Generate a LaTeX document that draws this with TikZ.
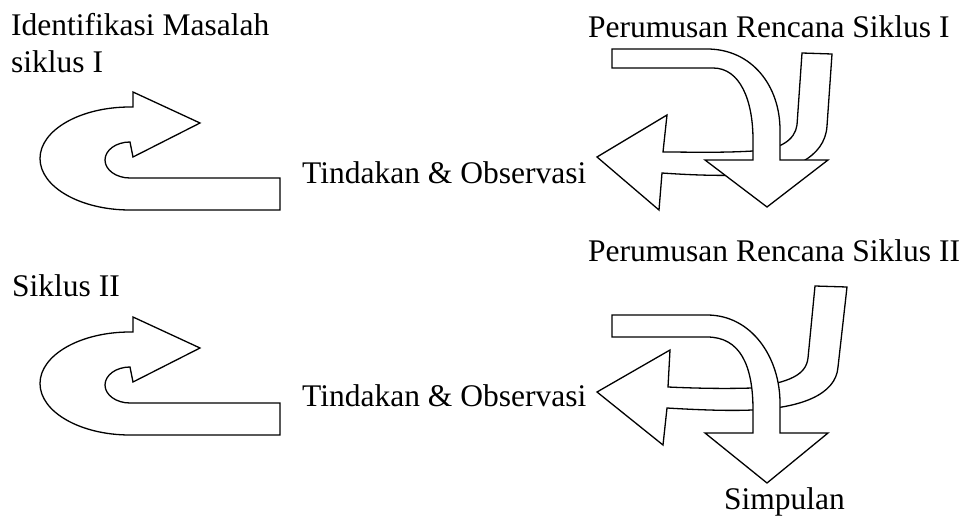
\documentclass[tikz,border=0pt]{standalone}
\usepackage{fontspec}
\setmainfont{Liberation Serif}
\begin{document}
\begin{tikzpicture}[x=1pt,y=-1pt,
  shapeline/.style={draw=black,fill=white,line width=1.3pt,line join=miter},
  lbl/.style={inner sep=0pt,anchor=base west,font=\fontsize{31.5}{37}\selectfont}]
\useasboundingbox (0,0) rectangle (966,522);

% ---------- U-turn arrows ----------
\foreach \dy/\nm in {0/ua, 225/ub}{
\begin{scope}[shift={(0,\dy)}]
\draw[shapeline] (280,178) -- (130,178)
  arc[start angle=90,end angle=270,x radius=25,y radius=18]
  -- (133,157) -- (200,123) -- (133,92) -- (133,107) -- (130,107)
  arc[start angle=270,end angle=90,x radius=90,y radius=51.5]
  -- (280,210) -- cycle;
\end{scope}
}

% ---------- right group 1 ----------
\draw[shapeline] (663,152) -- (667,115) -- (597,157) -- (659,210) -- (662,173)
  .. controls (690,175) and (720,176) .. (745,175)
  .. controls (790,173) and (825,158) .. (827,126)
  -- (832,54) -- (802,53) -- (797,125)
  .. controls (795,140) and (780,150) .. (753,151)
  .. controls (720,153) and (690,152) .. (663,152) -- cycle;
\draw[shapeline] (612,49) -- (707,49)
  .. controls (752,49) and (780,86) .. (780,130)
  -- (780,160) -- (828,160) -- (767,207) -- (705,160) -- (753,160) -- (753,140)
  .. controls (753,100) and (740,68) .. (713,68)
  -- (612,68) -- cycle;

% ---------- right group 2 ----------
\draw[shapeline] (668,387) -- (670,350) -- (597,392) -- (663,445) -- (667,408)
  .. controls (700,410) and (730,411) .. (752,410)
  .. controls (800,408) and (836,395) .. (838,367)
  -- (847,287) -- (815,286) -- (808,358)
  .. controls (806,375) and (790,382) .. (752,388)
  .. controls (720,389) and (690,388) .. (668,387) -- cycle;
\draw[shapeline] (612,315) -- (707,315)
  .. controls (752,315) and (780,358) .. (780,403)
  -- (780,433) -- (828,433) -- (767,483) -- (705,433) -- (753,433) -- (753,410)
  .. controls (753,365) and (740,337) .. (707,337)
  -- (612,337) -- cycle;

% ---------- labels ----------
\node[lbl] (t1) at (11,35) {Identifikasi Masalah};
\node[lbl] (t2) at (11,72) {siklus I};
\node[lbl] (t3) at (588,37) {Perumusan Rencana Siklus I};
\node[lbl] (t4) at (302,183) {Tindakan \& Observasi};
\node[lbl] (t5) at (588,261) {Perumusan Rencana Siklus II};
\node[lbl] (t6) at (12,296) {Siklus II};
\node[lbl] (t7) at (302,406) {Tindakan \& Observasi};
\node[lbl] (t8) at (724,509) {Simpulan};
\end{tikzpicture}
\end{document}
